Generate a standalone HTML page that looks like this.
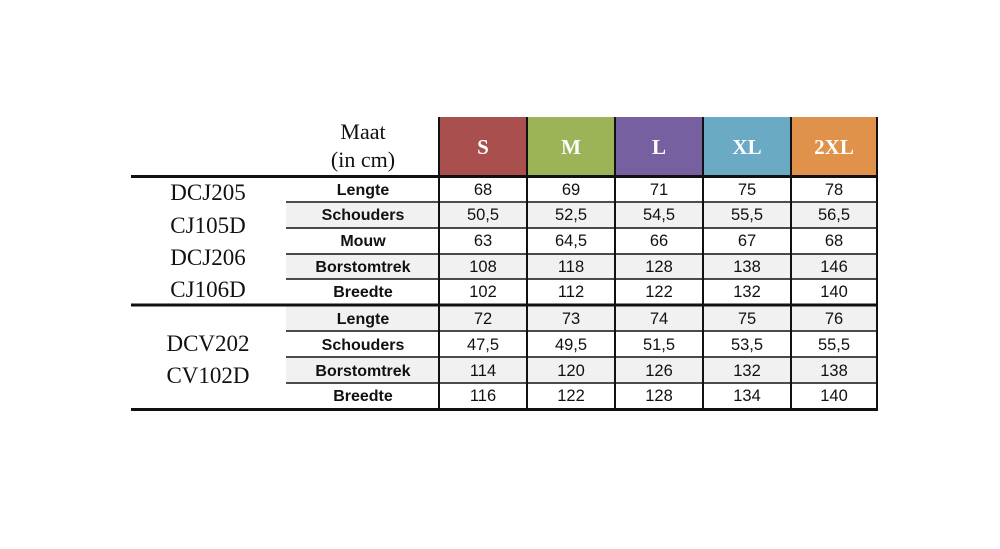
<!DOCTYPE html>
<html><head><style>body{margin:0;background:#fff}svg{display:block}</style></head><body>
<svg width="1000" height="549" xmlns="http://www.w3.org/2000/svg">
<g fill="#f1f1f1">
<rect x="286" y="203" width="591" height="25"/>
<rect x="286" y="254" width="591" height="25"/>
<rect x="286" y="306" width="591" height="25"/>
<rect x="286" y="357" width="591" height="25"/>
</g>
<rect x="439" y="117" width="87" height="58" fill="#a94f4e"/>
<rect x="527" y="117" width="87" height="58" fill="#9cb457"/>
<rect x="615" y="117" width="87" height="58" fill="#7660a0"/>
<rect x="703" y="117" width="87" height="58" fill="#6aaac5"/>
<rect x="791" y="117" width="86" height="58" fill="#e0914a"/>
<g stroke="#111" stroke-width="1.5">
<line x1="286" y1="202" x2="877" y2="202"/>
<line x1="286" y1="228" x2="877" y2="228"/>
<line x1="286" y1="254" x2="877" y2="254"/>
<line x1="286" y1="279" x2="877" y2="279"/>
<line x1="286" y1="331" x2="877" y2="331"/>
<line x1="286" y1="357" x2="877" y2="357"/>
<line x1="286" y1="383" x2="877" y2="383"/>
</g>
<g stroke="#111" stroke-width="2">
<line x1="439" y1="117" x2="439" y2="410"/>
<line x1="527" y1="117" x2="527" y2="410"/>
<line x1="615" y1="117" x2="615" y2="410"/>
<line x1="703" y1="117" x2="703" y2="410"/>
<line x1="791" y1="117" x2="791" y2="410"/>
<line x1="877" y1="117" x2="877" y2="410"/>
</g>
<g stroke="#111" stroke-width="3">
<line x1="131" y1="176.5" x2="878" y2="176.5"/>
<line x1="131" y1="305" x2="878" y2="305"/>
<line x1="131" y1="409.5" x2="878" y2="409.5"/>
</g>
<g font-family="Liberation Serif, serif" font-size="22" fill="#111" text-anchor="middle">
<text x="363" y="139">Maat</text>
<text x="363" y="167">(in cm)</text>
</g>
<g font-family="Liberation Serif, serif" font-size="23" fill="#111" text-anchor="middle">
<text x="208" y="200">DCJ205</text>
<text x="208" y="233">CJ105D</text>
<text x="208" y="265">DCJ206</text>
<text x="208" y="297">CJ106D</text>
<text x="208" y="351">DCV202</text>
<text x="208" y="383">CV102D</text>
</g>
<g font-family="Liberation Serif, serif" font-size="21" font-weight="bold" fill="#fff" text-anchor="middle">
<text x="483" y="154">S</text><text x="571" y="154">M</text><text x="659" y="154">L</text><text x="747" y="154">XL</text><text x="834" y="154">2XL</text>
</g>
<g font-family="Liberation Sans, sans-serif" font-size="16" font-weight="bold" fill="#111" text-anchor="middle">
<text x="363" y="195">Lengte</text><text x="363" y="220">Schouders</text><text x="363" y="246">Mouw</text><text x="363" y="272">Borstomtrek</text><text x="363" y="297">Breedte</text>
<text x="363" y="324">Lengte</text><text x="363" y="350">Schouders</text><text x="363" y="376">Borstomtrek</text><text x="363" y="401">Breedte</text>
</g>
<g font-family="Liberation Sans, sans-serif" font-size="16.5" fill="#111" text-anchor="middle">
<text y="195"><tspan x="483">68</tspan><tspan x="571">69</tspan><tspan x="659">71</tspan><tspan x="747">75</tspan><tspan x="834">78</tspan></text>
<text y="220"><tspan x="483">50,5</tspan><tspan x="571">52,5</tspan><tspan x="659">54,5</tspan><tspan x="747">55,5</tspan><tspan x="834">56,5</tspan></text>
<text y="246"><tspan x="483">63</tspan><tspan x="571">64,5</tspan><tspan x="659">66</tspan><tspan x="747">67</tspan><tspan x="834">68</tspan></text>
<text y="272"><tspan x="483">108</tspan><tspan x="571">118</tspan><tspan x="659">128</tspan><tspan x="747">138</tspan><tspan x="834">146</tspan></text>
<text y="297"><tspan x="483">102</tspan><tspan x="571">112</tspan><tspan x="659">122</tspan><tspan x="747">132</tspan><tspan x="834">140</tspan></text>
<text y="324"><tspan x="483">72</tspan><tspan x="571">73</tspan><tspan x="659">74</tspan><tspan x="747">75</tspan><tspan x="834">76</tspan></text>
<text y="350"><tspan x="483">47,5</tspan><tspan x="571">49,5</tspan><tspan x="659">51,5</tspan><tspan x="747">53,5</tspan><tspan x="834">55,5</tspan></text>
<text y="376"><tspan x="483">114</tspan><tspan x="571">120</tspan><tspan x="659">126</tspan><tspan x="747">132</tspan><tspan x="834">138</tspan></text>
<text y="401"><tspan x="483">116</tspan><tspan x="571">122</tspan><tspan x="659">128</tspan><tspan x="747">134</tspan><tspan x="834">140</tspan></text>
</g>
</svg>
</body></html>
